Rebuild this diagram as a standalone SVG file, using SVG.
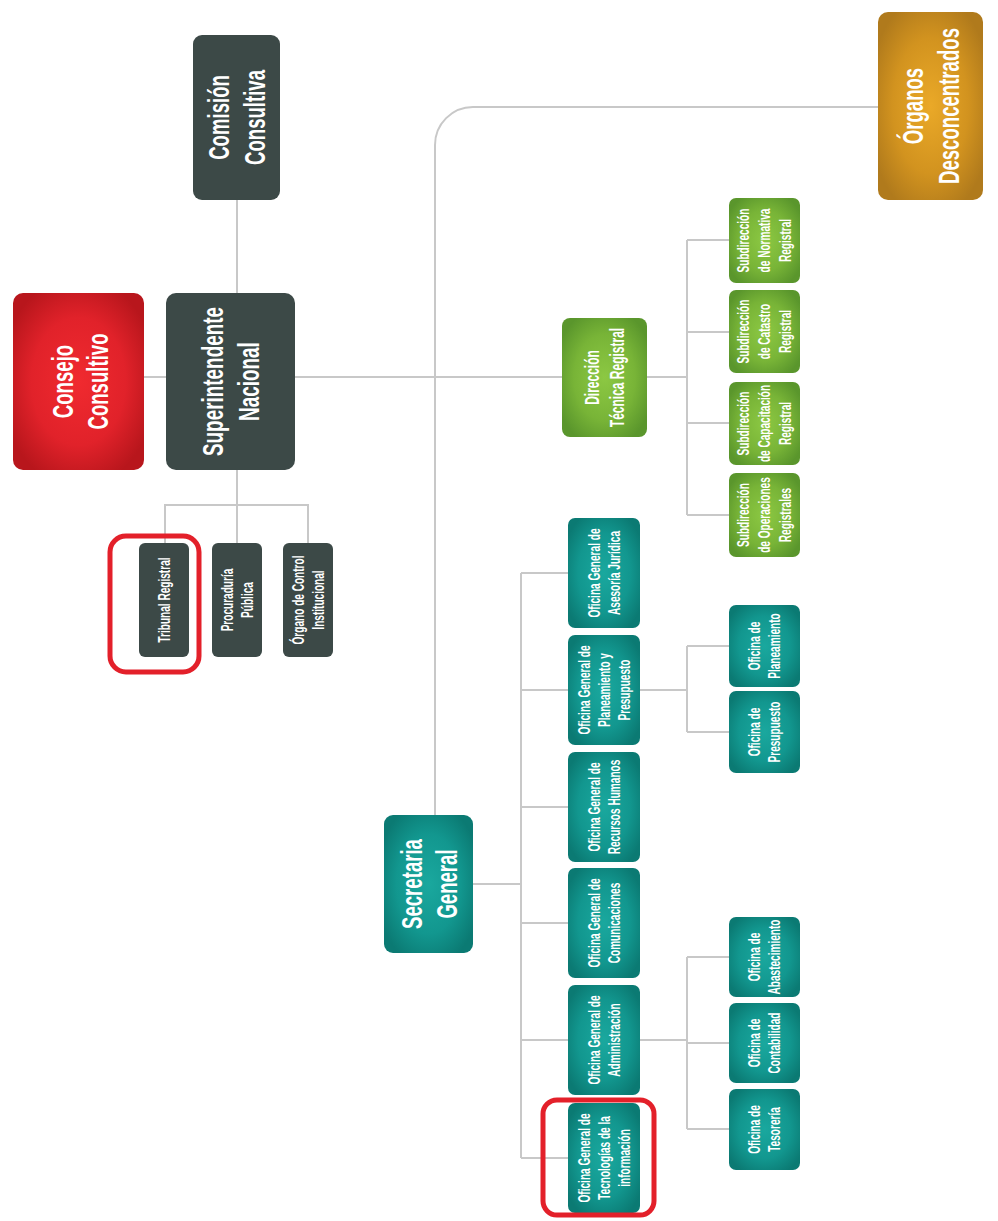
<svg xmlns="http://www.w3.org/2000/svg" width="998" height="1221" viewBox="0 0 998 1221">
  <defs>
    <radialGradient id="gRed" cx="0.5" cy="0.5" r="0.6">
      <stop offset="0" stop-color="#f02a2f"/>
      <stop offset="0.6" stop-color="#e1222a"/>
      <stop offset="1" stop-color="#b8161c"/>
    </radialGradient>
    <radialGradient id="gGold" cx="0.5" cy="0.5" r="0.6">
      <stop offset="0" stop-color="#eaa928"/>
      <stop offset="0.6" stop-color="#d2931f"/>
      <stop offset="1" stop-color="#b07a1c"/>
    </radialGradient>
    <radialGradient id="gGreen" cx="0.5" cy="0.5" r="0.6">
      <stop offset="0" stop-color="#8cc843"/>
      <stop offset="0.6" stop-color="#78b437"/>
      <stop offset="1" stop-color="#5a962c"/>
    </radialGradient>
    <radialGradient id="gTeal" cx="0.5" cy="0.5" r="0.6">
      <stop offset="0" stop-color="#1aa89e"/>
      <stop offset="0.6" stop-color="#12978f"/>
      <stop offset="1" stop-color="#0b7a73"/>
    </radialGradient>
  </defs>
  <style>
    .ln { fill: none; stroke: #c8c8c8; stroke-width: 2; }
    .dark { fill: #3c4947; }
    .red { fill: url(#gRed); }
    .gold { fill: url(#gGold); }
    .green { fill: url(#gGreen); }
    .teal { fill: url(#gTeal); }
    .t { font-family: 'Liberation Sans', Arial, sans-serif; font-weight: bold; fill: #ffffff; text-anchor: middle; }
    .big { font-size: 30px; }
    .mid { font-size: 20px; }
    .sm { font-size: 16px; }
    .hl { fill: none; stroke: #e3202a; stroke-width: 5; }
  </style>

  <rect width="998" height="1221" fill="#ffffff"/>

  <!-- connectors -->
  <g id="connectors">
    <path class="ln" d="M237 200 V293 M237 470 V505"/>
    <path class="ln" d="M165 543 V505 H308 V543 M237 505 V543"/>
    <path class="ln" d="M144 377 H166 M295 377 H562"/>
    <path class="ln" d="M435 815 V145 A38 38 0 0 1 473 107 H878"/>
    <path class="ln" d="M647 377 H687 M687 240 V515 M687 240 H729 M687 332 H729 M687 423 H729 M687 515 H729"/>
    <path class="ln" d="M473 884 H521 M521 573 V1158 M521 573 H568 M521 690 H568 M521 807 H568 M521 923 H568 M521 1040 H568 M521 1158 H568"/>
    <path class="ln" d="M640 690 H687 M687 646 V732 M687 646 H729 M687 732 H729"/>
    <path class="ln" d="M640 1040 H687 M687 957 V1129 M687 957 H729 M687 1043 H729 M687 1129 H729"/>
  </g>

  <!-- top level -->
  <g id="comision-consultiva">
    <rect class="dark" x="193" y="35" width="87" height="165" rx="9"/>
    <g class="t big" transform="translate(236.5,117.5) rotate(-90) scale(0.62,1)">
      <text y="-7.5">Comisión</text><text y="28.5">Consultiva</text>
    </g>
  </g>
  <g id="superintendente-nacional">
    <rect class="dark" x="166" y="293" width="129" height="177" rx="10"/>
    <g class="t big" transform="translate(230.5,381.5) rotate(-90) scale(0.63,1)">
      <text y="-7.5">Superintendente</text><text y="28.5">Nacional</text>
    </g>
  </g>
  <g id="consejo-consultivo">
    <rect class="red" x="13" y="293" width="131" height="177" rx="10"/>
    <g class="t big" transform="translate(80,381.5) rotate(-90) scale(0.62,1)">
      <text y="-7.5">Consejo</text><text y="28.5">Consultivo</text>
    </g>
  </g>
  <g id="organos-desconcentrados">
    <rect class="gold" x="878" y="12" width="105" height="188" rx="10"/>
    <g class="t big" transform="translate(930.5,106) rotate(-90) scale(0.62,1)">
      <text y="-7.5">Órganos</text><text y="28.5">Desconcentrados</text>
    </g>
  </g>

  <!-- Dirección Técnica Registral branch -->
  <g id="direccion-tecnica-registral">
    <rect class="green" x="562" y="318" width="85" height="119" rx="8"/>
    <g class="t mid" transform="translate(604.5,377.5) rotate(-90) scale(0.6,1)">
      <text y="-6">Dirección</text><text y="20">Técnica Registral</text>
    </g>
  </g>
  <g id="sub-normativa">
    <rect class="green" x="729" y="198" width="71" height="85" rx="7"/>
    <g class="t sm" transform="translate(764.5,240.5) rotate(-90) scale(0.63,1)">
      <text y="-15.4">Subdirección</text><text y="5.6">de Normativa</text><text y="26.6">Registral</text>
    </g>
  </g>
  <g id="sub-catastro">
    <rect class="green" x="729" y="290" width="71" height="83" rx="7"/>
    <g class="t sm" transform="translate(764.5,331.5) rotate(-90) scale(0.63,1)">
      <text y="-15.4">Subdirección</text><text y="5.6">de Catastro</text><text y="26.6">Registral</text>
    </g>
  </g>
  <g id="sub-capacitacion">
    <rect class="green" x="729" y="382" width="71" height="83" rx="7"/>
    <g class="t sm" transform="translate(764.5,423.5) rotate(-90) scale(0.63,1)">
      <text y="-15.4">Subdirección</text><text y="5.6">de Capacitación</text><text y="26.6">Registral</text>
    </g>
  </g>
  <g id="sub-operaciones">
    <rect class="green" x="729" y="473" width="71" height="84" rx="7"/>
    <g class="t sm" transform="translate(764.5,515) rotate(-90) scale(0.63,1)">
      <text y="-15.4">Subdirección</text><text y="5.6">de Operaciones</text><text y="26.6">Registrales</text>
    </g>
  </g>

  <!-- units under the Superintendente -->
  <g id="tribunal-registral">
    <rect class="dark" x="139" y="543" width="50" height="114" rx="6"/>
    <g class="t sm" transform="translate(164,600) rotate(-90) scale(0.63,1)">
      <text y="5.6">Tribunal Registral</text>
    </g>
  </g>
  <g id="procuraduria-publica">
    <rect class="dark" x="212" y="543" width="50" height="114" rx="6"/>
    <g class="t sm" transform="translate(237,600) rotate(-90) scale(0.63,1)">
      <text y="-4.4">Procuraduría</text><text y="15.6">Pública</text>
    </g>
  </g>
  <g id="organo-control">
    <rect class="dark" x="283" y="543" width="50" height="114" rx="6"/>
    <g class="t sm" transform="translate(308,600) rotate(-90) scale(0.63,1)">
      <text y="-4.4">Órgano de Control</text><text y="15.6">Institucional</text>
    </g>
  </g>

  <!-- Secretaria General branch -->
  <g id="secretaria-general">
    <rect class="teal" x="384" y="815" width="89" height="138" rx="9"/>
    <g class="t big" transform="translate(429,884) rotate(-90) scale(0.62,1)">
      <text y="-7.5">Secretaria</text><text y="28.5">General</text>
    </g>
  </g>
  <g id="og-asesoria-juridica">
    <rect class="teal" x="568" y="518" width="72" height="110" rx="7"/>
    <g class="t sm" transform="translate(604,573) rotate(-90) scale(0.63,1)">
      <text y="-4.4">Oficina General de</text><text y="15.6">Asesoría Jurídica</text>
    </g>
  </g>
  <g id="og-planeamiento-presupuesto">
    <rect class="teal" x="568" y="635" width="72" height="110" rx="7"/>
    <g class="t sm" transform="translate(604,690) rotate(-90) scale(0.63,1)">
      <text y="-14.4">Oficina General de</text><text y="5.6">Planeamiento y</text><text y="25.6">Presupuesto</text>
    </g>
  </g>
  <g id="og-recursos-humanos">
    <rect class="teal" x="568" y="752" width="72" height="110" rx="7"/>
    <g class="t sm" transform="translate(604,807) rotate(-90) scale(0.63,1)">
      <text y="-4.4">Oficina General de</text><text y="15.6">Recursos Humanos</text>
    </g>
  </g>
  <g id="og-comunicaciones">
    <rect class="teal" x="568" y="868" width="72" height="110" rx="7"/>
    <g class="t sm" transform="translate(604,923) rotate(-90) scale(0.63,1)">
      <text y="-4.4">Oficina General de</text><text y="15.6">Comunicaciones</text>
    </g>
  </g>
  <g id="og-administracion">
    <rect class="teal" x="568" y="985" width="72" height="110" rx="7"/>
    <g class="t sm" transform="translate(604,1040) rotate(-90) scale(0.63,1)">
      <text y="-4.4">Oficina General de</text><text y="15.6">Administración</text>
    </g>
  </g>
  <g id="og-tecnologias">
    <rect class="teal" x="568" y="1103" width="72" height="110" rx="7"/>
    <g class="t sm" transform="translate(604,1158) rotate(-90) scale(0.63,1)">
      <text y="-14.4">Oficina General de</text><text y="5.6">Tecnologías de la</text><text y="25.6">información</text>
    </g>
  </g>

  <!-- offices -->
  <g id="of-planeamiento">
    <rect class="teal" x="729" y="605" width="71" height="82" rx="7"/>
    <g class="t sm" transform="translate(764.5,646) rotate(-90) scale(0.63,1)">
      <text y="-4.4">Oficina de</text><text y="15.6">Planeamiento</text>
    </g>
  </g>
  <g id="of-presupuesto">
    <rect class="teal" x="729" y="691" width="71" height="82" rx="7"/>
    <g class="t sm" transform="translate(764.5,732) rotate(-90) scale(0.63,1)">
      <text y="-4.4">Oficina de</text><text y="15.6">Presupuesto</text>
    </g>
  </g>
  <g id="of-abastecimiento">
    <rect class="teal" x="729" y="917" width="71" height="80" rx="7"/>
    <g class="t sm" transform="translate(764.5,957) rotate(-90) scale(0.63,1)">
      <text y="-4.4">Oficina de</text><text y="15.6">Abastecimiento</text>
    </g>
  </g>
  <g id="of-contabilidad">
    <rect class="teal" x="729" y="1003" width="71" height="80" rx="7"/>
    <g class="t sm" transform="translate(764.5,1043) rotate(-90) scale(0.63,1)">
      <text y="-4.4">Oficina de</text><text y="15.6">Contabilidad</text>
    </g>
  </g>
  <g id="of-tesoreria">
    <rect class="teal" x="729" y="1089" width="71" height="81" rx="7"/>
    <g class="t sm" transform="translate(764.5,1129.5) rotate(-90) scale(0.63,1)">
      <text y="-4.4">Oficina de</text><text y="15.6">Tesorería</text>
    </g>
  </g>

  <!-- red highlight outlines -->
  <g id="highlights">
    <rect class="hl" x="110" y="536" width="89" height="136" rx="16"/>
    <rect class="hl" x="543" y="1100" width="111" height="115" rx="14"/>
  </g>
</svg>
